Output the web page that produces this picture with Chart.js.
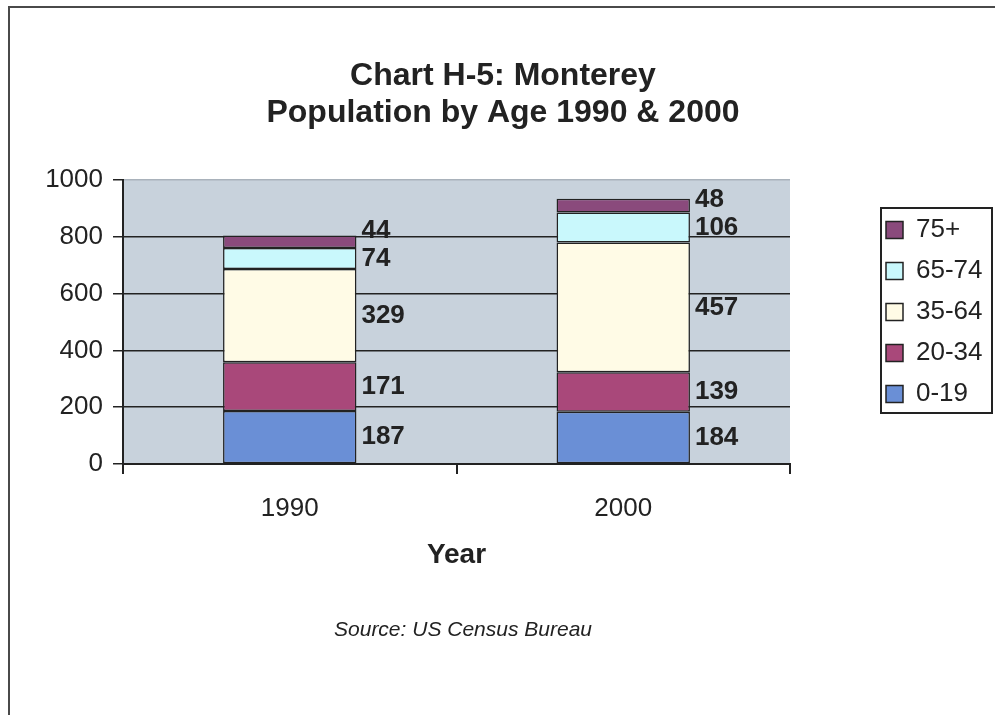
<!DOCTYPE html>
<html>
<head>
<meta charset="utf-8">
<title>Chart H-5: Monterey Population by Age 1990 & 2000</title>
<script src="https://cdn.jsdelivr.net/npm/chart.js@4/dist/chart.umd.min.js"></script>
<style>
  html, body { margin: 0; padding: 0; background: #ffffff; }
  #wrap { position: relative; width: 995px; height: 715px; }
</style>
</head>
<body>
<div id="wrap"><canvas id="chart"></canvas></div>
<script>
// Census years shown on the x axis
const years = ['1990', '2000'];

// Age groups, bottom of the stack first
const ageGroups = ['0-19', '20-34', '35-64', '65-74', '75+'];

// Residents per age group for each census year
const age0to19  = [187, 184];
const age20to34 = [171, 139];
const age35to64 = [329, 457];
const age65to74 = [74, 106];
const age75plus = [44, 48];

// Value axis ticks
const yTicks = [0, 200, 400, 600, 800, 1000];

const titleLines = ['Chart H-5: Monterey', 'Population by Age 1990 & 2000'];
const sourceNote = 'Source: US Census Bureau';

const FONT = '"Liberation Sans", Arial, Helvetica, sans-serif';
const INK = '#222222';

const seriesValues = [age0to19, age20to34, age35to64, age65to74, age75plus];
const seriesColors = ['#6a8fd6', '#a9487a', '#fffbe6', '#c9f8fc', '#8a4a7c'];

// Page frame, plot background, legend frame, title and source line
const decorations = {
  id: 'decorations',
  beforeDraw(chart) {
    const { ctx, chartArea: a } = chart;
    ctx.save();
    ctx.fillStyle = '#ffffff';
    ctx.fillRect(0, 0, chart.width, chart.height);
    // outer frame (top and left edges)
    ctx.strokeStyle = '#4a4a4a';
    ctx.lineWidth = 2;
    ctx.beginPath();
    ctx.moveTo(9, chart.height);
    ctx.lineTo(9, 7);
    ctx.lineTo(chart.width, 7);
    ctx.stroke();
    // plot area fill
    ctx.fillStyle = '#c8d2dc';
    ctx.fillRect(a.left, a.top, a.right - a.left, a.bottom - a.top);
    // legend frame
    if (chart.legend) {
      ctx.fillStyle = '#ffffff';
      ctx.fillRect(881, 208, 111, 205);
      ctx.strokeStyle = '#222222';
      ctx.lineWidth = 2;
      ctx.strokeRect(881, 208, 111, 205);
    }
    // title
    ctx.fillStyle = INK;
    ctx.textAlign = 'center';
    ctx.textBaseline = 'middle';
    ctx.font = 'bold 32px ' + FONT;
    titleLines.forEach((t, i) => ctx.fillText(t, 503, 76 + i * 37));
    // source
    ctx.font = 'italic 21px ' + FONT;
    ctx.fillText(sourceNote, 463, 630);
    ctx.restore();
  }
};

// Place the legend box to the right of the plot
const legendPlacement = {
  id: 'legendPlacement',
  afterLayout(chart) {
    const lg = chart.legend;
    if (!lg) return;
    const w = lg.width;
    lg.left = 871;
    lg.right = 871 + w;
    lg.top = 202;
    lg.bottom = 202 + 15 + 205;
    lg.height = lg.bottom - lg.top;
  }
};

// Value labels to the right of each stacked segment
const segmentLabels = {
  id: 'segmentLabels',
  afterDatasetsDraw(chart) {
    const { ctx } = chart;
    ctx.save();
    ctx.font = 'bold 26px ' + FONT;
    ctx.fillStyle = INK;
    ctx.textAlign = 'left';
    ctx.textBaseline = 'middle';
    const gap = 28;
    chart.data.labels.forEach((_, idx) => {
      let prevY = Infinity;
      chart.data.datasets.forEach((ds, di) => {
        const bar = chart.getDatasetMeta(di).data[idx];
        if (!bar) return;
        const p = bar.getProps(['x', 'y', 'base', 'width'], true);
        let y = (p.y + p.base) / 2;
        if (y > prevY - gap) y = prevY - gap;
        prevY = y;
        ctx.fillText(String(ds.data[idx]), p.x + p.width / 2 + 5, y);
      });
    });
    ctx.restore();
  }
};

new Chart(document.getElementById('chart'), {
  type: 'bar',
  data: {
    labels: years,
    datasets: ageGroups.map((g, i) => ({
      label: g,
      data: seriesValues[i],
      backgroundColor: seriesColors[i],
      borderColor: '#222222',
      borderWidth: 1.5,
      borderSkipped: false,
      barPercentage: 0.4,
      categoryPercentage: 1.0
    }))
  },
  options: {
    responsive: true,
    maintainAspectRatio: false,
    animation: false,
    layout: { padding: { top: 180, left: 0, right: 87, bottom: 143 } },
    plugins: {
      title: { display: false },
      tooltip: { enabled: false },
      legend: {
        position: 'right',
        reverse: true,
        maxWidth: 118,
        labels: {
          boxWidth: 17,
          boxHeight: 17,
          padding: 15,
          color: INK,
          font: { family: FONT, size: 26 }
        }
      }
    },
    scales: {
      x: {
        stacked: true,
        afterFit(scale) { scale.height = 108; },
        grid: {
          offset: true,
          drawOnChartArea: false,
          drawTicks: true,
          tickLength: 10,
          color: '#222222',
          lineWidth: 2
        },
        border: { display: true, color: '#222222', width: 2 },
        ticks: { color: INK, padding: 19, font: { family: FONT, size: 26 } },
        title: {
          display: true,
          text: 'Year',
          color: INK,
          padding: { top: 0, bottom: 0 },
          font: { family: FONT, size: 28, weight: 'bold' }
        }
      },
      y: {
        stacked: true,
        min: yTicks[0],
        max: yTicks[yTicks.length - 1],
        afterFit(scale) { scale.width = 123; },
        afterBuildTicks(scale) { scale.ticks = yTicks.map(v => ({ value: v })); },
        grid: {
          drawTicks: true,
          tickLength: 10,
          color: ctx => (ctx.tick && ctx.tick.value === 1000) ? '#a9b2bb' : '#222222',
          tickColor: '#222222',
          lineWidth: 1.5
        },
        border: { display: true, color: '#222222', width: 2 },
        ticks: {
          color: INK,
          padding: 10,
          font: { family: FONT, size: 26 },
          callback: v => String(v)
        }
      }
    }
  },
  plugins: [decorations, legendPlacement, segmentLabels]
});
</script>
</body>
</html>
